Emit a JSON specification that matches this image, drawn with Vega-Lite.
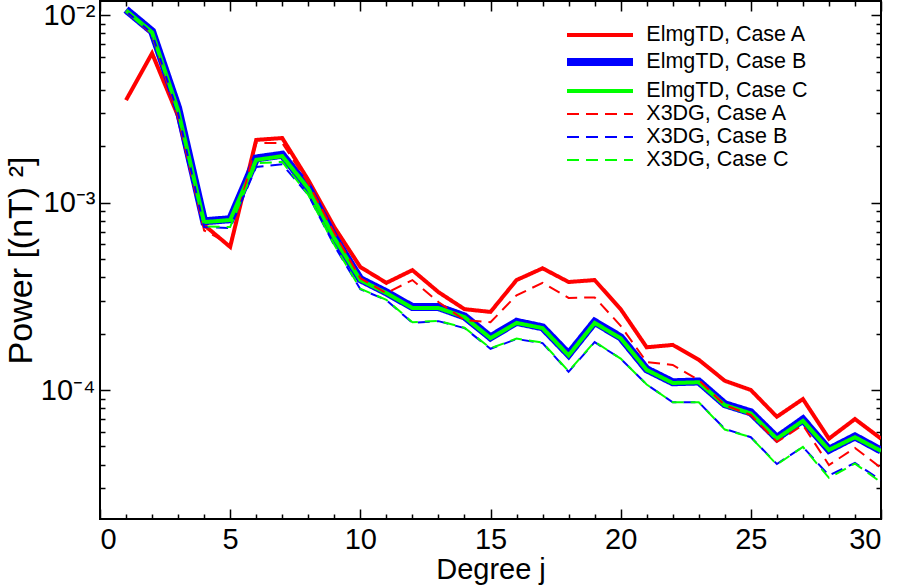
{
  "$schema": "https://vega.github.io/schema/vega-lite/v6.json",
  "autosize": {"type": "none"},
  "width": 781,
  "height": 518,
  "padding": {"left": 100, "top": 1, "right": 17, "bottom": 67},
  "background": "white",
  "config": {
    "view": {"stroke": "#000", "strokeWidth": 2},
    "font": "Liberation Sans",
    "axis": {"grid": false, "tickColor": "#000", "domainColor": "#000", "labelColor": "#000", "titleColor": "#000", "labelFont": "Liberation Sans", "titleFont": "Liberation Sans", "titleFontWeight": "normal", "tickWidth": 1.5},
    "legend": {"orient": "none", "legendX": 485, "legendY": 21, "symbolType": "M-3,0H3", "symbolSize": 484, "labelFontSize": 21.5, "labelFont": "Liberation Sans", "labelColor": "#000", "labelOffset": 31.3, "labelLimit": 400, "rowPadding": 0, "title": null, "padding": 0}
  },
  "data": {"values": [
    {"j":1,"v":3.52e-3,"s":"ElmgTD, Case A"},{"j":2,"v":6.26e-3,"s":"ElmgTD, Case A"},{"j":3,"v":2.89e-3,"s":"ElmgTD, Case A"},{"j":4,"v":7.59e-4,"s":"ElmgTD, Case A"},{"j":5,"v":5.8e-4,"s":"ElmgTD, Case A"},{"j":6,"v":2.16e-3,"s":"ElmgTD, Case A"},{"j":7,"v":2.21e-3,"s":"ElmgTD, Case A"},{"j":8,"v":1.32e-3,"s":"ElmgTD, Case A"},{"j":9,"v":7.4e-4,"s":"ElmgTD, Case A"},{"j":10,"v":4.53e-4,"s":"ElmgTD, Case A"},{"j":11,"v":3.73e-4,"s":"ElmgTD, Case A"},{"j":12,"v":4.36e-4,"s":"ElmgTD, Case A"},{"j":13,"v":3.33e-4,"s":"ElmgTD, Case A"},{"j":14,"v":2.7e-4,"s":"ElmgTD, Case A"},{"j":15,"v":2.61e-4,"s":"ElmgTD, Case A"},{"j":16,"v":3.86e-4,"s":"ElmgTD, Case A"},{"j":17,"v":4.46e-4,"s":"ElmgTD, Case A"},{"j":18,"v":3.77e-4,"s":"ElmgTD, Case A"},{"j":19,"v":3.86e-4,"s":"ElmgTD, Case A"},{"j":20,"v":2.7e-4,"s":"ElmgTD, Case A"},{"j":21,"v":1.69e-4,"s":"ElmgTD, Case A"},{"j":22,"v":1.74e-4,"s":"ElmgTD, Case A"},{"j":23,"v":1.45e-4,"s":"ElmgTD, Case A"},{"j":24,"v":1.12e-4,"s":"ElmgTD, Case A"},{"j":25,"v":1.0e-4,"s":"ElmgTD, Case A"},{"j":26,"v":7.2e-5,"s":"ElmgTD, Case A"},{"j":27,"v":8.95e-5,"s":"ElmgTD, Case A"},{"j":28,"v":5.5e-5,"s":"ElmgTD, Case A"},{"j":29,"v":7.0e-5,"s":"ElmgTD, Case A"},{"j":30,"v":5.5e-5,"s":"ElmgTD, Case A"},

    {"j":1,"v":1.07e-2,"s":"ElmgTD, Case B"},{"j":2,"v":8.2e-3,"s":"ElmgTD, Case B"},{"j":3,"v":3.2e-3,"s":"ElmgTD, Case B"},{"j":4,"v":7.95e-4,"s":"ElmgTD, Case B"},{"j":5,"v":8.15e-4,"s":"ElmgTD, Case B"},{"j":6,"v":1.72e-3,"s":"ElmgTD, Case B"},{"j":7,"v":1.8e-3,"s":"ElmgTD, Case B"},{"j":8,"v":1.2e-3,"s":"ElmgTD, Case B"},{"j":9,"v":6.55e-4,"s":"ElmgTD, Case B"},{"j":10,"v":3.9e-4,"s":"ElmgTD, Case B"},{"j":11,"v":3.32e-4,"s":"ElmgTD, Case B"},{"j":12,"v":2.77e-4,"s":"ElmgTD, Case B"},{"j":13,"v":2.77e-4,"s":"ElmgTD, Case B"},{"j":14,"v":2.47e-4,"s":"ElmgTD, Case B"},{"j":15,"v":1.91e-4,"s":"ElmgTD, Case B"},{"j":16,"v":2.31e-4,"s":"ElmgTD, Case B"},{"j":17,"v":2.16e-4,"s":"ElmgTD, Case B"},{"j":18,"v":1.55e-4,"s":"ElmgTD, Case B"},{"j":19,"v":2.31e-4,"s":"ElmgTD, Case B"},{"j":20,"v":1.91e-4,"s":"ElmgTD, Case B"},{"j":21,"v":1.29e-4,"s":"ElmgTD, Case B"},{"j":22,"v":1.1e-4,"s":"ElmgTD, Case B"},{"j":23,"v":1.11e-4,"s":"ElmgTD, Case B"},{"j":24,"v":8.4e-5,"s":"ElmgTD, Case B"},{"j":25,"v":7.6e-5,"s":"ElmgTD, Case B"},{"j":26,"v":5.55e-5,"s":"ElmgTD, Case B"},{"j":27,"v":6.95e-5,"s":"ElmgTD, Case B"},{"j":28,"v":4.8e-5,"s":"ElmgTD, Case B"},{"j":29,"v":5.65e-5,"s":"ElmgTD, Case B"},{"j":30,"v":4.75e-5,"s":"ElmgTD, Case B"},

    {"j":1,"v":1.06e-2,"s":"ElmgTD, Case C"},{"j":2,"v":8.1e-3,"s":"ElmgTD, Case C"},{"j":3,"v":3.11e-3,"s":"ElmgTD, Case C"},{"j":4,"v":7.87e-4,"s":"ElmgTD, Case C"},{"j":5,"v":8.07e-4,"s":"ElmgTD, Case C"},{"j":6,"v":1.69e-3,"s":"ElmgTD, Case C"},{"j":7,"v":1.77e-3,"s":"ElmgTD, Case C"},{"j":8,"v":1.19e-3,"s":"ElmgTD, Case C"},{"j":9,"v":6.47e-4,"s":"ElmgTD, Case C"},{"j":10,"v":3.86e-4,"s":"ElmgTD, Case C"},{"j":11,"v":3.29e-4,"s":"ElmgTD, Case C"},{"j":12,"v":2.74e-4,"s":"ElmgTD, Case C"},{"j":13,"v":2.74e-4,"s":"ElmgTD, Case C"},{"j":14,"v":2.45e-4,"s":"ElmgTD, Case C"},{"j":15,"v":1.89e-4,"s":"ElmgTD, Case C"},{"j":16,"v":2.28e-4,"s":"ElmgTD, Case C"},{"j":17,"v":2.14e-4,"s":"ElmgTD, Case C"},{"j":18,"v":1.53e-4,"s":"ElmgTD, Case C"},{"j":19,"v":2.28e-4,"s":"ElmgTD, Case C"},{"j":20,"v":1.89e-4,"s":"ElmgTD, Case C"},{"j":21,"v":1.28e-4,"s":"ElmgTD, Case C"},{"j":22,"v":1.09e-4,"s":"ElmgTD, Case C"},{"j":23,"v":1.1e-4,"s":"ElmgTD, Case C"},{"j":24,"v":8.3e-5,"s":"ElmgTD, Case C"},{"j":25,"v":7.5e-5,"s":"ElmgTD, Case C"},{"j":26,"v":5.5e-5,"s":"ElmgTD, Case C"},{"j":27,"v":6.85e-5,"s":"ElmgTD, Case C"},{"j":28,"v":4.79e-5,"s":"ElmgTD, Case C"},{"j":29,"v":5.6e-5,"s":"ElmgTD, Case C"},{"j":30,"v":4.73e-5,"s":"ElmgTD, Case C"},

    {"j":1,"v":1.05e-2,"s":"X3DG, Case A"},{"j":2,"v":7.9e-3,"s":"X3DG, Case A"},{"j":3,"v":2.85e-3,"s":"X3DG, Case A"},{"j":4,"v":7.1e-4,"s":"X3DG, Case A"},{"j":5,"v":6.0e-4,"s":"X3DG, Case A"},{"j":6,"v":2.08e-3,"s":"X3DG, Case A"},{"j":7,"v":2.08e-3,"s":"X3DG, Case A"},{"j":8,"v":1.27e-3,"s":"X3DG, Case A"},{"j":9,"v":6.9e-4,"s":"X3DG, Case A"},{"j":10,"v":3.95e-4,"s":"X3DG, Case A"},{"j":11,"v":3.29e-4,"s":"X3DG, Case A"},{"j":12,"v":3.86e-4,"s":"X3DG, Case A"},{"j":13,"v":2.95e-4,"s":"X3DG, Case A"},{"j":14,"v":2.36e-4,"s":"X3DG, Case A"},{"j":15,"v":2.3e-4,"s":"X3DG, Case A"},{"j":16,"v":3.2e-4,"s":"X3DG, Case A"},{"j":17,"v":3.73e-4,"s":"X3DG, Case A"},{"j":18,"v":3.1e-4,"s":"X3DG, Case A"},{"j":19,"v":3.12e-4,"s":"X3DG, Case A"},{"j":20,"v":2.2e-4,"s":"X3DG, Case A"},{"j":21,"v":1.41e-4,"s":"X3DG, Case A"},{"j":22,"v":1.36e-4,"s":"X3DG, Case A"},{"j":23,"v":1.13e-4,"s":"X3DG, Case A"},{"j":24,"v":8.3e-5,"s":"X3DG, Case A"},{"j":25,"v":7.36e-5,"s":"X3DG, Case A"},{"j":26,"v":5.28e-5,"s":"X3DG, Case A"},{"j":27,"v":6.5e-5,"s":"X3DG, Case A"},{"j":28,"v":3.98e-5,"s":"X3DG, Case A"},{"j":29,"v":4.91e-5,"s":"X3DG, Case A"},{"j":30,"v":3.84e-5,"s":"X3DG, Case A"},

    {"j":1,"v":1.05e-2,"s":"X3DG, Case B"},{"j":2,"v":8.0e-3,"s":"X3DG, Case B"},{"j":3,"v":3.0e-3,"s":"X3DG, Case B"},{"j":4,"v":7.4e-4,"s":"X3DG, Case B"},{"j":5,"v":7.3e-4,"s":"X3DG, Case B"},{"j":6,"v":1.55e-3,"s":"X3DG, Case B"},{"j":7,"v":1.6e-3,"s":"X3DG, Case B"},{"j":8,"v":1.1e-3,"s":"X3DG, Case B"},{"j":9,"v":5.9e-4,"s":"X3DG, Case B"},{"j":10,"v":3.45e-4,"s":"X3DG, Case B"},{"j":11,"v":3.02e-4,"s":"X3DG, Case B"},{"j":12,"v":2.28e-4,"s":"X3DG, Case B"},{"j":13,"v":2.33e-4,"s":"X3DG, Case B"},{"j":14,"v":2.14e-4,"s":"X3DG, Case B"},{"j":15,"v":1.66e-4,"s":"X3DG, Case B"},{"j":16,"v":1.87e-4,"s":"X3DG, Case B"},{"j":17,"v":1.78e-4,"s":"X3DG, Case B"},{"j":18,"v":1.25e-4,"s":"X3DG, Case B"},{"j":19,"v":1.8e-4,"s":"X3DG, Case B"},{"j":20,"v":1.47e-4,"s":"X3DG, Case B"},{"j":21,"v":1.07e-4,"s":"X3DG, Case B"},{"j":22,"v":8.6e-5,"s":"X3DG, Case B"},{"j":23,"v":8.6e-5,"s":"X3DG, Case B"},{"j":24,"v":6.2e-5,"s":"X3DG, Case B"},{"j":25,"v":5.6e-5,"s":"X3DG, Case B"},{"j":26,"v":4.03e-5,"s":"X3DG, Case B"},{"j":27,"v":4.97e-5,"s":"X3DG, Case B"},{"j":28,"v":3.5e-5,"s":"X3DG, Case B"},{"j":29,"v":4.08e-5,"s":"X3DG, Case B"},{"j":30,"v":3.3e-5,"s":"X3DG, Case B"},

    {"j":1,"v":1.05e-2,"s":"X3DG, Case C"},{"j":2,"v":8.0e-3,"s":"X3DG, Case C"},{"j":3,"v":3.0e-3,"s":"X3DG, Case C"},{"j":4,"v":7.45e-4,"s":"X3DG, Case C"},{"j":5,"v":7.4e-4,"s":"X3DG, Case C"},{"j":6,"v":1.62e-3,"s":"X3DG, Case C"},{"j":7,"v":1.65e-3,"s":"X3DG, Case C"},{"j":8,"v":1.1e-3,"s":"X3DG, Case C"},{"j":9,"v":5.95e-4,"s":"X3DG, Case C"},{"j":10,"v":3.47e-4,"s":"X3DG, Case C"},{"j":11,"v":3.03e-4,"s":"X3DG, Case C"},{"j":12,"v":2.3e-4,"s":"X3DG, Case C"},{"j":13,"v":2.34e-4,"s":"X3DG, Case C"},{"j":14,"v":2.15e-4,"s":"X3DG, Case C"},{"j":15,"v":1.67e-4,"s":"X3DG, Case C"},{"j":16,"v":1.88e-4,"s":"X3DG, Case C"},{"j":17,"v":1.79e-4,"s":"X3DG, Case C"},{"j":18,"v":1.26e-4,"s":"X3DG, Case C"},{"j":19,"v":1.81e-4,"s":"X3DG, Case C"},{"j":20,"v":1.47e-4,"s":"X3DG, Case C"},{"j":21,"v":1.07e-4,"s":"X3DG, Case C"},{"j":22,"v":8.6e-5,"s":"X3DG, Case C"},{"j":23,"v":8.6e-5,"s":"X3DG, Case C"},{"j":24,"v":6.15e-5,"s":"X3DG, Case C"},{"j":25,"v":5.6e-5,"s":"X3DG, Case C"},{"j":26,"v":4.0e-5,"s":"X3DG, Case C"},{"j":27,"v":4.97e-5,"s":"X3DG, Case C"},{"j":28,"v":3.4e-5,"s":"X3DG, Case C"},{"j":29,"v":4.05e-5,"s":"X3DG, Case C"},{"j":30,"v":3.22e-5,"s":"X3DG, Case C"}
  ]},
  "encoding": {
    "x": {"field": "j", "type": "quantitative", "scale": {"domain": [0, 30], "nice": false, "zero": false}},
    "y": {"field": "v", "type": "quantitative", "scale": {"type": "log", "domain": [2.05e-5, 1.19e-2], "nice": false}},
    "color": {"field": "s", "type": "nominal", "scale": {"domain": ["ElmgTD, Case A", "ElmgTD, Case B", "ElmgTD, Case C", "X3DG, Case A", "X3DG, Case B", "X3DG, Case C"], "range": ["#ff0000", "#0000ff", "#00ff00", "#ff0000", "#0000ff", "#00ff00"]}},
    "strokeDash": {"field": "s", "type": "nominal", "scale": {"domain": ["ElmgTD, Case A", "ElmgTD, Case B", "ElmgTD, Case C", "X3DG, Case A", "X3DG, Case B", "X3DG, Case C"], "range": [[1, 0], [1, 0], [1, 0], [12, 7], [12, 7], [12, 7]]}},
    "strokeWidth": {"field": "s", "type": "ordinal", "scale": {"type": "ordinal", "domain": ["ElmgTD, Case A", "ElmgTD, Case B", "ElmgTD, Case C", "X3DG, Case A", "X3DG, Case B", "X3DG, Case C"], "range": [4, 8, 4, 2, 2, 2]}}
  },
  "resolve": {"axis": {"x": "independent", "y": "independent"}},
  "layer": [
    {
      "transform": [{"filter": "datum.s == 'ElmgTD, Case A'"}],
      "mark": {"type": "line", "clip": true},
      "encoding": {
        "x": {"field": "j", "type": "quantitative", "axis": {"orient": "bottom", "values": [0, 5, 10, 15, 20, 25, 30], "ticks": false, "domain": false, "labelFontSize": 29, "labelPadding": 6, "title": "Degree j", "titleFontSize": 29, "titlePadding": 1}},
        "y": {"field": "v", "type": "quantitative", "axis": {"orient": "left", "values": [0.0001, 0.001, 0.01], "ticks": false, "domain": false, "labelFontSize": 29, "labelPadding": 5, "labelExpr": "datum.value > 0.005 ? '10⁻²' : datum.value > 0.0005 ? '10⁻³' : '10⁻⁴'", "title": "Power [(nT) ²]", "titleFontSize": 34, "titlePadding": 2}}
      }
    },
    {
      "transform": [{"filter": "datum.s == 'ElmgTD, Case B'"}],
      "mark": {"type": "line", "clip": true},
      "encoding": {
        "x": {"field": "j", "type": "quantitative", "axis": {"orient": "bottom", "offset": -10, "values": [0, 5, 10, 15, 20, 25, 30], "tickSize": 10, "labels": false, "domain": false, "title": null}},
        "y": {"field": "v", "type": "quantitative", "axis": {"orient": "left", "offset": -10, "values": [0.0001, 0.001, 0.01], "tickSize": 10, "labels": false, "domain": false, "title": null}}
      }
    },
    {
      "transform": [{"filter": "datum.s == 'ElmgTD, Case C'"}],
      "mark": {"type": "line", "clip": true},
      "encoding": {
        "x": {"field": "j", "type": "quantitative", "axis": {"orient": "bottom", "offset": -5, "values": [1, 2, 3, 4, 6, 7, 8, 9, 11, 12, 13, 14, 16, 17, 18, 19, 21, 22, 23, 24, 26, 27, 28, 29], "tickSize": 5, "labels": false, "domain": false, "title": null}},
        "y": {"field": "v", "type": "quantitative", "axis": {"orient": "left", "offset": -5, "values": [3e-5, 4e-5, 5e-5, 6e-5, 7e-5, 8e-5, 9e-5, 2e-4, 3e-4, 4e-4, 5e-4, 6e-4, 7e-4, 8e-4, 9e-4, 2e-3, 3e-3, 4e-3, 5e-3, 6e-3, 7e-3, 8e-3, 9e-3], "tickSize": 5, "labels": false, "domain": false, "title": null}}
      }
    },
    {
      "transform": [{"filter": "datum.s == 'X3DG, Case A'"}],
      "mark": {"type": "line", "clip": true},
      "encoding": {
        "x": {"field": "j", "type": "quantitative", "axis": {"orient": "top", "offset": -10, "values": [0, 5, 10, 15, 20, 25, 30], "tickSize": 10, "labels": false, "domain": false, "title": null}},
        "y": {"field": "v", "type": "quantitative", "axis": {"orient": "right", "offset": -10, "values": [0.0001, 0.001, 0.01], "tickSize": 10, "labels": false, "domain": false, "title": null}}
      }
    },
    {
      "transform": [{"filter": "datum.s == 'X3DG, Case B'"}],
      "mark": {"type": "line", "clip": true},
      "encoding": {
        "x": {"field": "j", "type": "quantitative", "axis": {"orient": "top", "offset": -5, "values": [1, 2, 3, 4, 6, 7, 8, 9, 11, 12, 13, 14, 16, 17, 18, 19, 21, 22, 23, 24, 26, 27, 28, 29], "tickSize": 5, "labels": false, "domain": false, "title": null}},
        "y": {"field": "v", "type": "quantitative", "axis": {"orient": "right", "offset": -5, "values": [3e-5, 4e-5, 5e-5, 6e-5, 7e-5, 8e-5, 9e-5, 2e-4, 3e-4, 4e-4, 5e-4, 6e-4, 7e-4, 8e-4, 9e-4, 2e-3, 3e-3, 4e-3, 5e-3, 6e-3, 7e-3, 8e-3, 9e-3], "tickSize": 5, "labels": false, "domain": false, "title": null}}
      }
    },
    {
      "transform": [{"filter": "datum.s == 'X3DG, Case C'"}],
      "mark": {"type": "line", "clip": true, "strokeDashOffset": 9},
      "encoding": {
        "x": {"field": "j", "type": "quantitative", "axis": null},
        "y": {"field": "v", "type": "quantitative", "axis": null}
      }
    }
  ]
}
